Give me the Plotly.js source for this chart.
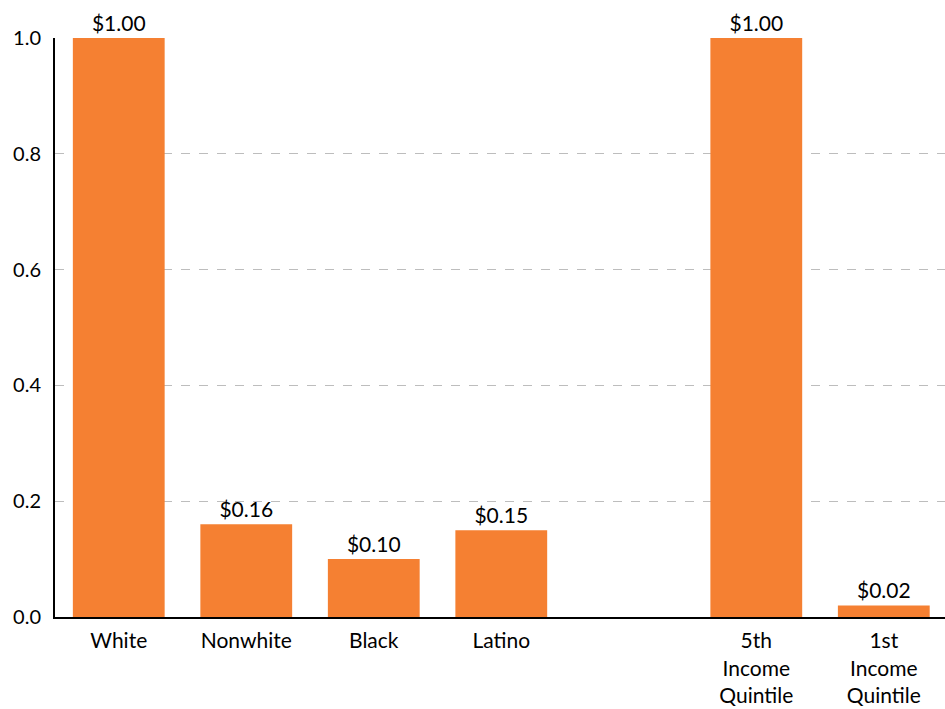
<!DOCTYPE html>
<html>
<head>
<meta charset="utf-8">
<script src="https://cdn.plot.ly/plotly-3.0.1.min.js"></script>
<style>html,body{margin:0;padding:0;background:#fff;}#chart{width:945px;height:709px;}</style>
</head>
<body>
<div id="chart"></div>
<script>
const categories = ["White", "Nonwhite", "Black", "Latino", " ", "5th<br>Income<br>Quintile", "1st<br>Income<br>Quintile"];
const values = [1.00, 0.16, 0.10, 0.15, null, 1.00, 0.02];
const valueLabels = ["$1.00", "$0.16", "$0.10", "$0.15", "", "$1.00", "$0.02"];
const yTicks = [0, 0.2, 0.4, 0.6, 0.8, 1.0];

const trace = {
  type: "bar",
  x: categories,
  y: values,
  text: valueLabels,
  textposition: "outside",
  cliponaxis: false,
  textfont: {family: "Lato, 'Open Sans', sans-serif", size: 21, color: "#000"},
  marker: {color: "#F58032"},
  hoverinfo: "x+y"
};

const layout = {
  width: 945, height: 709,
  margin: {l: 55, r: 0, t: 38, b: 92},
  paper_bgcolor: "#fff", plot_bgcolor: "#fff",
  font: {family: "Lato, 'Open Sans', sans-serif", size: 20, color: "#000"},
  bargap: 0.28,
  showlegend: false,
  xaxis: {
    type: "category",
    categoryorder: "array",
    categoryarray: categories,
    range: [-0.5, 6.48],
    showline: true, linecolor: "#000", linewidth: 2,
    showgrid: false, zeroline: false,
    ticks: "", ticklabelstandoff: 4,
    tickfont: {size: 21}
  },
  yaxis: {
    range: [0, 1.0],
    tickvals: yTicks,
    tickformat: ".1f",
    showline: true, linecolor: "#000", linewidth: 2,
    showgrid: true, gridcolor: "#bdbdbd", griddash: "dash", gridwidth: 1,
    zeroline: false,
    ticks: "", ticklabelstandoff: 8,
    tickfont: {size: 20}
  }
};

Plotly.newPlot("chart", [trace], layout, {displayModeBar: false, staticPlot: true});
</script>
</body>
</html>
